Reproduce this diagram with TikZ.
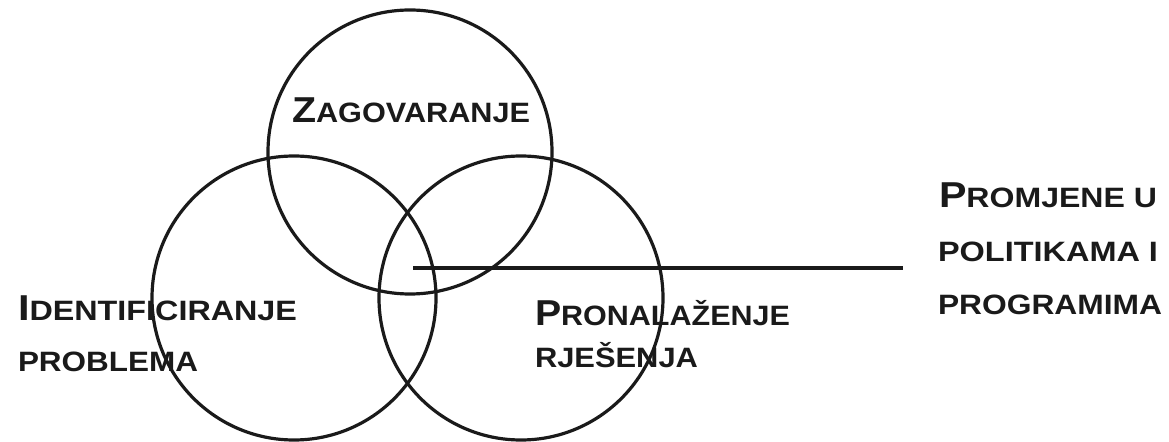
\documentclass[tikz,border=0pt]{standalone}
\usepackage{fontspec}
\setmainfont{Liberation Sans}
\usepackage{graphicx}
\definecolor{ink}{HTML}{1A1A1A}
\newcommand{\capA}[1]{{\fontsize{36bp}{36bp}\selectfont #1}}
\newcommand{\capB}[1]{{\fontsize{28bp}{28bp}\selectfont #1}}
\newcommand{\fitw}[2]{\resizebox{#1}{\height}{#2}}
\begin{document}
\begin{tikzpicture}[x=1bp,y=-1bp,
  ring/.style={circle, draw=ink, line width=3.2bp, minimum size=284bp, inner sep=0pt},
  lbl/.style={anchor=base west, inner sep=0pt, outer sep=0pt, text=ink, font=\bfseries},
  conn/.style={draw=ink, line width=3.2bp}]
\useasboundingbox (0,0) rectangle (1169,442);
% labels
\node[lbl] (zag) at (292,123) {\fitw{238bp}{\capA{Z}\capB{AGOVARANJE}}};
\node[lbl] (ide) at (18,321) {\fitw{279bp}{\capA{I}\capB{DENTIFICIRANJE}}};
\node[lbl] (pro) at (18,372) {\fitw{180bp}{\capB{PROBLEMA}}};
\node[lbl] (pron) at (535,326) {\fitw{255bp}{\capA{P}\capB{RONALAŽENJE}}};
\node[lbl] (rje) at (535,368) {\fitw{163bp}{\capB{RJEŠENJA}}};
\node[lbl] (prom) at (939,208) {\fitw{218bp}{\capA{P}\capB{ROMJENE U}}};
\node[lbl] (pol) at (938,262) {\fitw{220bp}{\capB{POLITIKAMA I}}};
\node[lbl] (prg) at (938,315) {\fitw{224bp}{\capB{PROGRAMIMA}}};
% circles
\node[ring] (top) at (410,152) {};
\node[ring] (left) at (294,298) {};
\node[ring] (right) at (521,298) {};
% connector
\coordinate (ls) at (413,268);
\coordinate (le) at (903,268);
\draw[conn] (ls) -- (le);
\end{tikzpicture}
\end{document}
